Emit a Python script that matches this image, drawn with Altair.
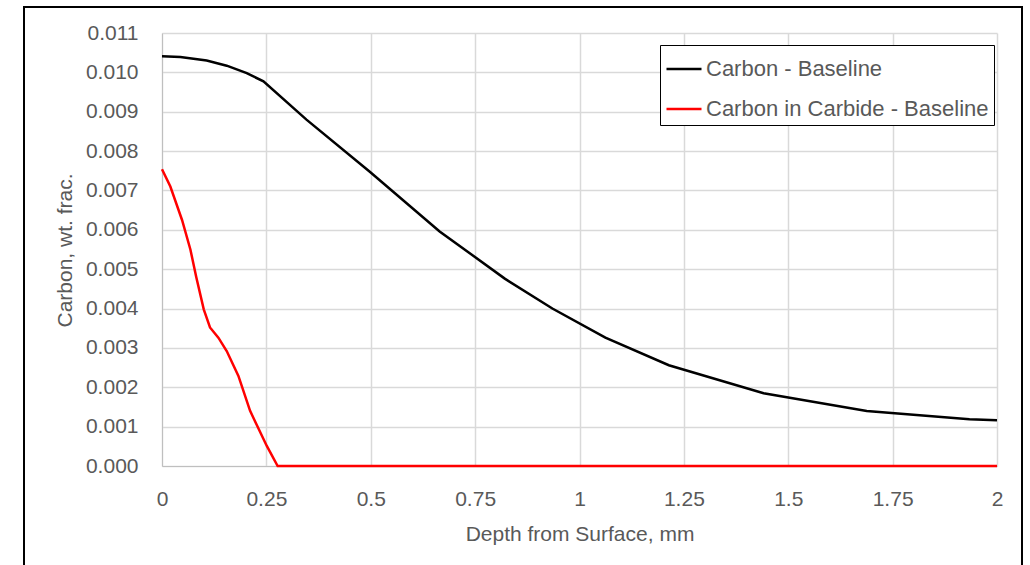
import altair as alt
import pandas as pd

# Carbon - Baseline
carbon_x = [0, 0.044, 0.107, 0.155, 0.203, 0.243, 0.346, 0.497, 0.665, 0.821, 0.935, 1.062, 1.214, 1.441, 1.688, 1.934, 2.0]
carbon_y = [0.01041, 0.01039, 0.0103, 0.01017, 0.00998, 0.00977, 0.0088, 0.00748, 0.00596, 0.00476, 0.0040, 0.00326, 0.00256, 0.00185, 0.0014, 0.00119, 0.00116]

# Carbon in Carbide - Baseline
carbide_x = [0, 0.02, 0.048, 0.068, 0.082, 0.1, 0.115, 0.135, 0.155, 0.183, 0.211, 0.251, 0.277, 2.0]
carbide_y = [0.00754, 0.0071, 0.00625, 0.0055, 0.0048, 0.00398, 0.00352, 0.00326, 0.00292, 0.00229, 0.0014, 0.00051, 0.0, 0.0]

series_names = ["Carbon - Baseline", "Carbon in Carbide - Baseline"]
series_colors = ["#000000", "#FF0000"]
x_ticks = [0, 0.25, 0.5, 0.75, 1, 1.25, 1.5, 1.75, 2]
y_ticks = [i / 1000 for i in range(0, 12)]

rows = []
for i, (x, y) in enumerate(zip(carbon_x, carbon_y)):
    rows.append({"depth": x, "carbon": y, "series": series_names[0], "order": i})
for i, (x, y) in enumerate(zip(carbide_x, carbide_y)):
    rows.append({"depth": x, "carbon": y, "series": series_names[1], "order": i})
df = pd.DataFrame(rows)

FONT = "Liberation Sans"
GRAY = "#595959"

lines = alt.Chart(df).mark_line(strokeWidth=2.5).encode(
    x=alt.X("depth:Q",
            scale=alt.Scale(domain=[0, 2], nice=False, zero=False),
            axis=alt.Axis(values=x_ticks, format=".2~f", title="Depth from Surface, mm",
                          labelPadding=22, ticks=False, labelFlush=False,
                          titleY=68, titleBaseline="middle",
                          domainColor="#BFBFBF", gridColor="#D9D9D9")),
    y=alt.Y("carbon:Q",
            scale=alt.Scale(domain=[0, 0.011], nice=False),
            axis=alt.Axis(values=y_ticks, format=".3f", title="Carbon, wt. frac.",
                          labelPadding=24, ticks=False, labelFlush=False,
                          titleX=-97, titleY=217, titleBaseline="middle", titleAlign="center",
                          domainColor="#BFBFBF", gridColor="#D9D9D9")),
    color=alt.Color("series:N",
                    scale=alt.Scale(domain=series_names, range=series_colors),
                    legend=alt.Legend(title=None, orient="none", legendX=498, legendY=12,
                                      strokeColor="#000000", padding=5,
                                      symbolType="stroke", symbolSize=1225,
                                      symbolStrokeWidth=2.5, labelOffset=3,
                                      rowPadding=10, labelFontSize=22, labelLimit=0,
                                      labelColor=GRAY, labelFont=FONT,
                                      fillColor="#FFFFFF")),
    order="order:Q",
)

frame = alt.Chart(pd.DataFrame({"a": [0]})).mark_rect(
    fill=None, stroke="#000000", strokeWidth=2, clip=False
).encode(
    x=alt.value(-138), x2=alt.value(860), y=alt.value(-26), y2=alt.value(560)
)

chart = alt.layer(frame, lines).properties(
    width=835, height=433,
    padding={"left": 162, "top": 33, "right": 33, "bottom": 99},
    autosize=alt.AutoSizeParams(type="none"),
    background="#FFFFFF",
).configure_view(stroke=None).configure_axis(
    labelFont=FONT, titleFont=FONT, labelColor=GRAY, titleColor=GRAY,
    labelFontSize=21, titleFontSize=21, titleFontWeight="normal",
    gridColor="#D9D9D9", gridWidth=1.5
)

chart.save("out.html", embed_options={"renderer": "svg", "actions": False})
